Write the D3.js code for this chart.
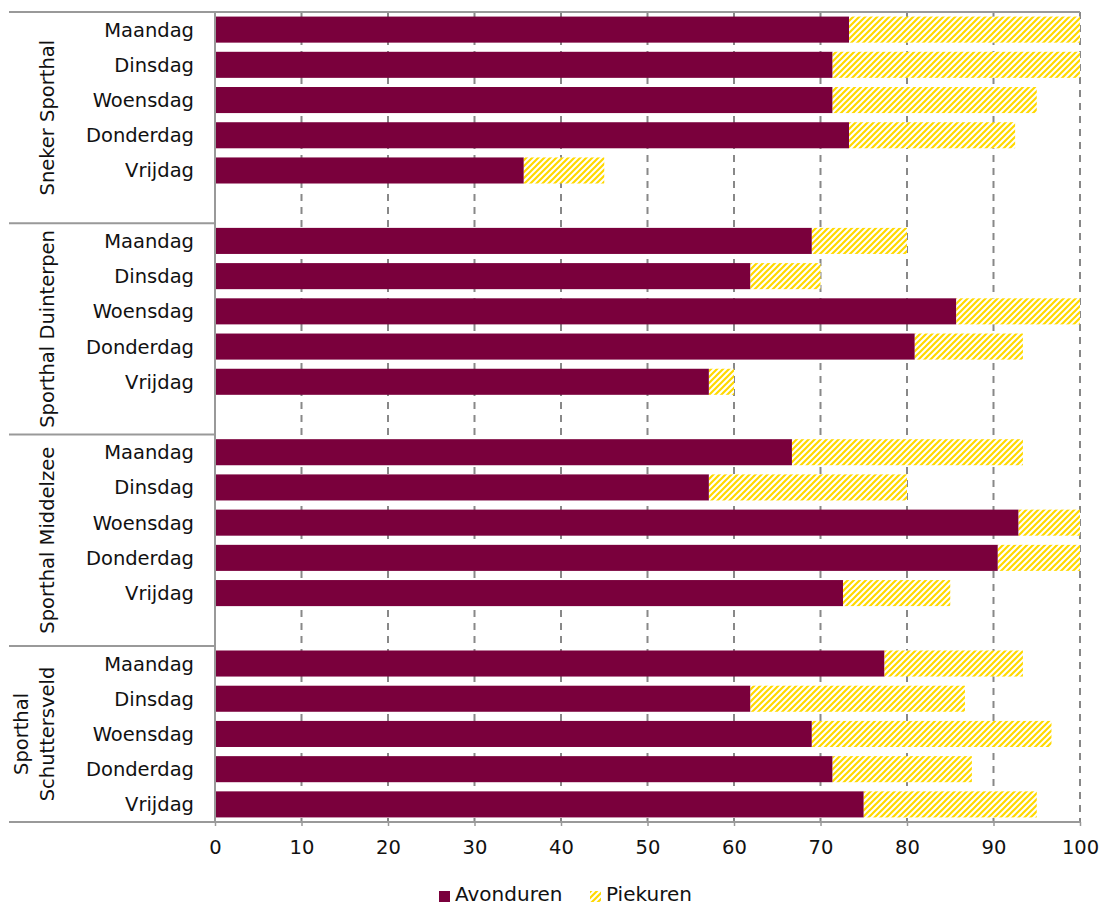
<!DOCTYPE html>
<html>
<head>
<meta charset="utf-8">
<script src="https://cdn.jsdelivr.net/npm/d3@7"></script>
<style>
  body { margin: 0; background: #fff; }
  svg { display: block; }
  text { font-family: "DejaVu Sans", sans-serif; fill: #111; }
</style>
</head>
<body>
<svg id="chart" width="1102" height="906"></svg>
<script>
const groups = ["Sneker Sporthal", "Sporthal Duinterpen", "Sporthal Middelzee", "Sporthal Schuttersveld"];
const groupLabelLines = [["Sneker Sporthal"], ["Sporthal Duinterpen"], ["Sporthal Middelzee"], ["Sporthal", "Schuttersveld"]];
const days = ["Maandag", "Dinsdag", "Woensdag", "Donderdag", "Vrijdag"];
const seriesNames = ["Avonduren", "Piekuren"];
// values per group, in order of days
const avonduren = [
  [73.3, 71.4, 71.4, 73.3, 35.7],
  [69.0, 61.9, 85.7, 80.9, 57.1],
  [66.7, 57.1, 92.9, 90.5, 72.6],
  [77.4, 61.9, 69.0, 71.4, 75.0]
];
const piekuren = [
  [26.7, 28.6, 23.6, 19.2, 9.3],
  [11.0, 8.1, 14.3, 12.5, 2.9],
  [26.7, 22.9, 7.1, 9.5, 12.4],
  [16.0, 24.8, 27.7, 16.1, 20.0]
];
const xTicks = [0, 10, 20, 30, 40, 50, 60, 70, 80, 90, 100];

const colAvond = "#7a003c";
const colPiek = "#ffd900";

const svg = d3.select("#chart");
const defs = svg.append("defs");
const pat = defs.append("pattern")
  .attr("id", "hatch").attr("patternUnits", "userSpaceOnUse")
  .attr("width", 6).attr("height", 6);
pat.append("rect").attr("width", 6).attr("height", 6).attr("fill", "#fff");
pat.append("path").attr("d", "M-1,1 l2,-2 M0,6 l6,-6 M5,7 l2,-2")
  .attr("stroke", colPiek).attr("stroke-width", 2.2);

// slots: 5 days per group + blank slot between groups
const slots = [];
groups.forEach((g, gi) => {
  days.forEach(d => slots.push(g + "|" + d));
  if (gi < groups.length - 1) slots.push(g + "|blank");
});

const x0 = 215, x1 = 1080, yTop = 12, yBot = 822;
const x = d3.scaleLinear().domain([0, 100]).range([x0, x1]);
const y = d3.scaleBand().domain(slots).range([yTop, yBot]).paddingInner(0.26).paddingOuter(0.13);

// gridlines
svg.append("g").selectAll("line").data(xTicks.filter(t => t > 0)).join("line")
  .attr("x1", d => x(d)).attr("x2", d => x(d))
  .attr("y1", yTop).attr("y2", yBot)
  .attr("stroke", "#888").attr("stroke-width", 2).attr("stroke-dasharray", "7,6");

// bars
const rows = [];
groups.forEach((g, gi) => days.forEach((d, di) => {
  rows.push({ key: g + "|" + d, day: d, a: avonduren[gi][di], p: piekuren[gi][di] });
}));
const bars = svg.append("g");
bars.selectAll("rect.a").data(rows).join("rect").attr("class", "a")
  .attr("x", x(0)).attr("y", d => y(d.key))
  .attr("width", d => x(d.a) - x(0)).attr("height", y.bandwidth())
  .attr("fill", colAvond);
bars.selectAll("rect.p").data(rows).join("rect").attr("class", "p")
  .attr("x", d => x(d.a)).attr("y", d => y(d.key))
  .attr("width", d => x(d.a + d.p) - x(d.a)).attr("height", y.bandwidth())
  .attr("fill", "url(#hatch)");

// axes lines
const lineCol = "#999";
svg.append("line").attr("x1", 9).attr("x2", x1).attr("y1", yTop).attr("y2", yTop)
  .attr("stroke", lineCol).attr("stroke-width", 2);
svg.append("line").attr("x1", 9).attr("x2", x1).attr("y1", yBot).attr("y2", yBot)
  .attr("stroke", lineCol).attr("stroke-width", 2);
svg.append("line").attr("x1", x0).attr("x2", x0).attr("y1", yTop).attr("y2", yBot)
  .attr("stroke", lineCol).attr("stroke-width", 2);
// group separators
groups.forEach((g, gi) => {
  if (gi === 0) return;
  const yy = y(g + "|" + days[0]) - (y.step() - y.bandwidth()) / 2;
  svg.append("line").attr("x1", 9).attr("x2", x0).attr("y1", yy).attr("y2", yy)
    .attr("stroke", lineCol).attr("stroke-width", 2);
});

// x axis
const xAxis = svg.append("g").attr("transform", `translate(0,${yBot})`)
  .call(d3.axisBottom(x).tickValues(xTicks).tickSize(4).tickPadding(14));
xAxis.select(".domain").remove();
xAxis.selectAll(".tick line").attr("stroke", "#999").attr("stroke-width", 1.5);
xAxis.selectAll(".tick text").style("font-family", "DejaVu Sans, sans-serif")
  .style("font-size", "19.5px").attr("fill", "#111");

// category labels
svg.append("g").selectAll("text").data(rows).join("text")
  .attr("x", 194).attr("y", d => y(d.key) + y.bandwidth() / 2)
  .attr("dy", "0.36em").attr("text-anchor", "end")
  .style("font-size", "19.5px").text(d => d.day);

// group labels
groups.forEach((g, gi) => {
  const first = y(g + "|" + days[0]) - (y.step() - y.bandwidth()) / 2;
  const last = gi < groups.length - 1
    ? y(g + "|blank") + y.bandwidth() + (y.step() - y.bandwidth()) / 2
    : yBot;
  const cy = (first + last) / 2;
  const lines = groupLabelLines[gi];
  const lh = 26;
  lines.forEach((ln, li) => {
    const cx = 54 + (li - (lines.length - 1)) * lh;
    svg.append("text")
      .attr("transform", `translate(${cx},${cy}) rotate(-90)`)
      .attr("text-anchor", "middle")
      .style("font-size", "19.5px").text(ln);
  });
});

// legend
const leg = svg.append("g");
leg.append("rect").attr("x", 439).attr("y", 891).attr("width", 11).attr("height", 11).attr("fill", colAvond);
leg.append("text").attr("x", 455).attr("y", 901).style("font-size", "20px").text(seriesNames[0]);
leg.append("rect").attr("x", 590).attr("y", 891).attr("width", 11).attr("height", 11).attr("fill", "url(#hatch)");
leg.append("text").attr("x", 606).attr("y", 901).style("font-size", "20px").text(seriesNames[1]);
</script>
</body>
</html>
